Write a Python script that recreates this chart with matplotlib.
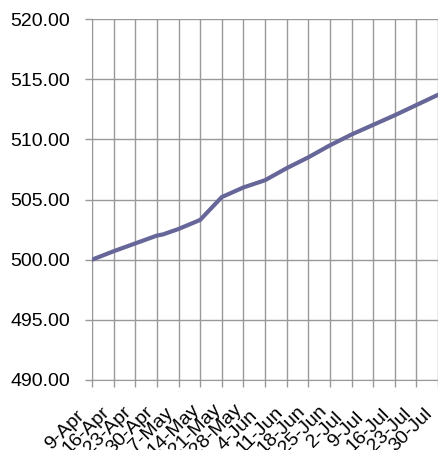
import numpy as np
import matplotlib
matplotlib.use("Agg")
import matplotlib.pyplot as plt
import matplotlib.transforms as mtransforms
import pandas as pd

plt.rcParams['font.family'] = ['Liberation Sans', 'DejaVu Sans']

# values
fechas = ["2007-04-09", "2007-04-16", "2007-04-23", "2007-04-30", "2007-05-02",
          "2007-05-07", "2007-05-14", "2007-05-21", "2007-05-28", "2007-06-04",
          "2007-06-11", "2007-06-18", "2007-06-25", "2007-07-02", "2007-07-09",
          "2007-07-16", "2007-07-23", "2007-07-30"]
valores = [500.0, 500.7, 501.35, 502.0, 502.1,
           502.55, 503.3, 505.2, 506.0, 506.6,
           507.6, 508.5, 509.5, 510.4, 511.2,
           512.0, 512.85, 513.7]

ticks_x = pd.date_range("2007-04-09", "2007-07-30", freq="7D")
etiquetas_x = [f"{d.day}-{d.strftime('%b')}" for d in ticks_x]
ticks_y = [490, 495, 500, 505, 510, 515, 520]

fechas = pd.to_datetime(fechas)

fig = plt.figure(figsize=(4.39, 4.5), dpi=100)
ax = fig.add_axes([92 / 439, 1 - 380 / 450, 346 / 439, 361 / 450])

ax.plot(fechas, valores, color="#666699", linewidth=3, solid_joinstyle="miter", zorder=3)

ax.set_xlim(ticks_x[0], ticks_x[-1])
ax.set_ylim(490, 520)
ax.set_yticks(ticks_y)
ax.set_yticklabels([f"{v:.2f}" for v in ticks_y], fontsize=14)
ax.set_xticks(ticks_x)
ax.set_xticklabels([])

# rotated date labels, centred down-left of each tick like the original
trans = ax.get_xaxis_transform() + mtransforms.ScaledTranslation(-27 / 100, -50 / 100, fig.dpi_scale_trans)
for d, txt in zip(ticks_x, etiquetas_x):
    ax.text(d, 0, txt, transform=trans, fontsize=14, rotation=45,
            ha="center", va="center", rotation_mode="anchor", clip_on=False)

ax.grid(True, color="#999999", linewidth=1)
for s in ["top", "right"]:
    ax.spines[s].set_visible(False)
for s in ["left", "bottom"]:
    ax.spines[s].set_color("#999999")
ax.tick_params(axis="both", color="#999999", length=5, width=1, direction="out")
ax.tick_params(axis="y", pad=11)

fig.savefig("out.png", dpi=100)
